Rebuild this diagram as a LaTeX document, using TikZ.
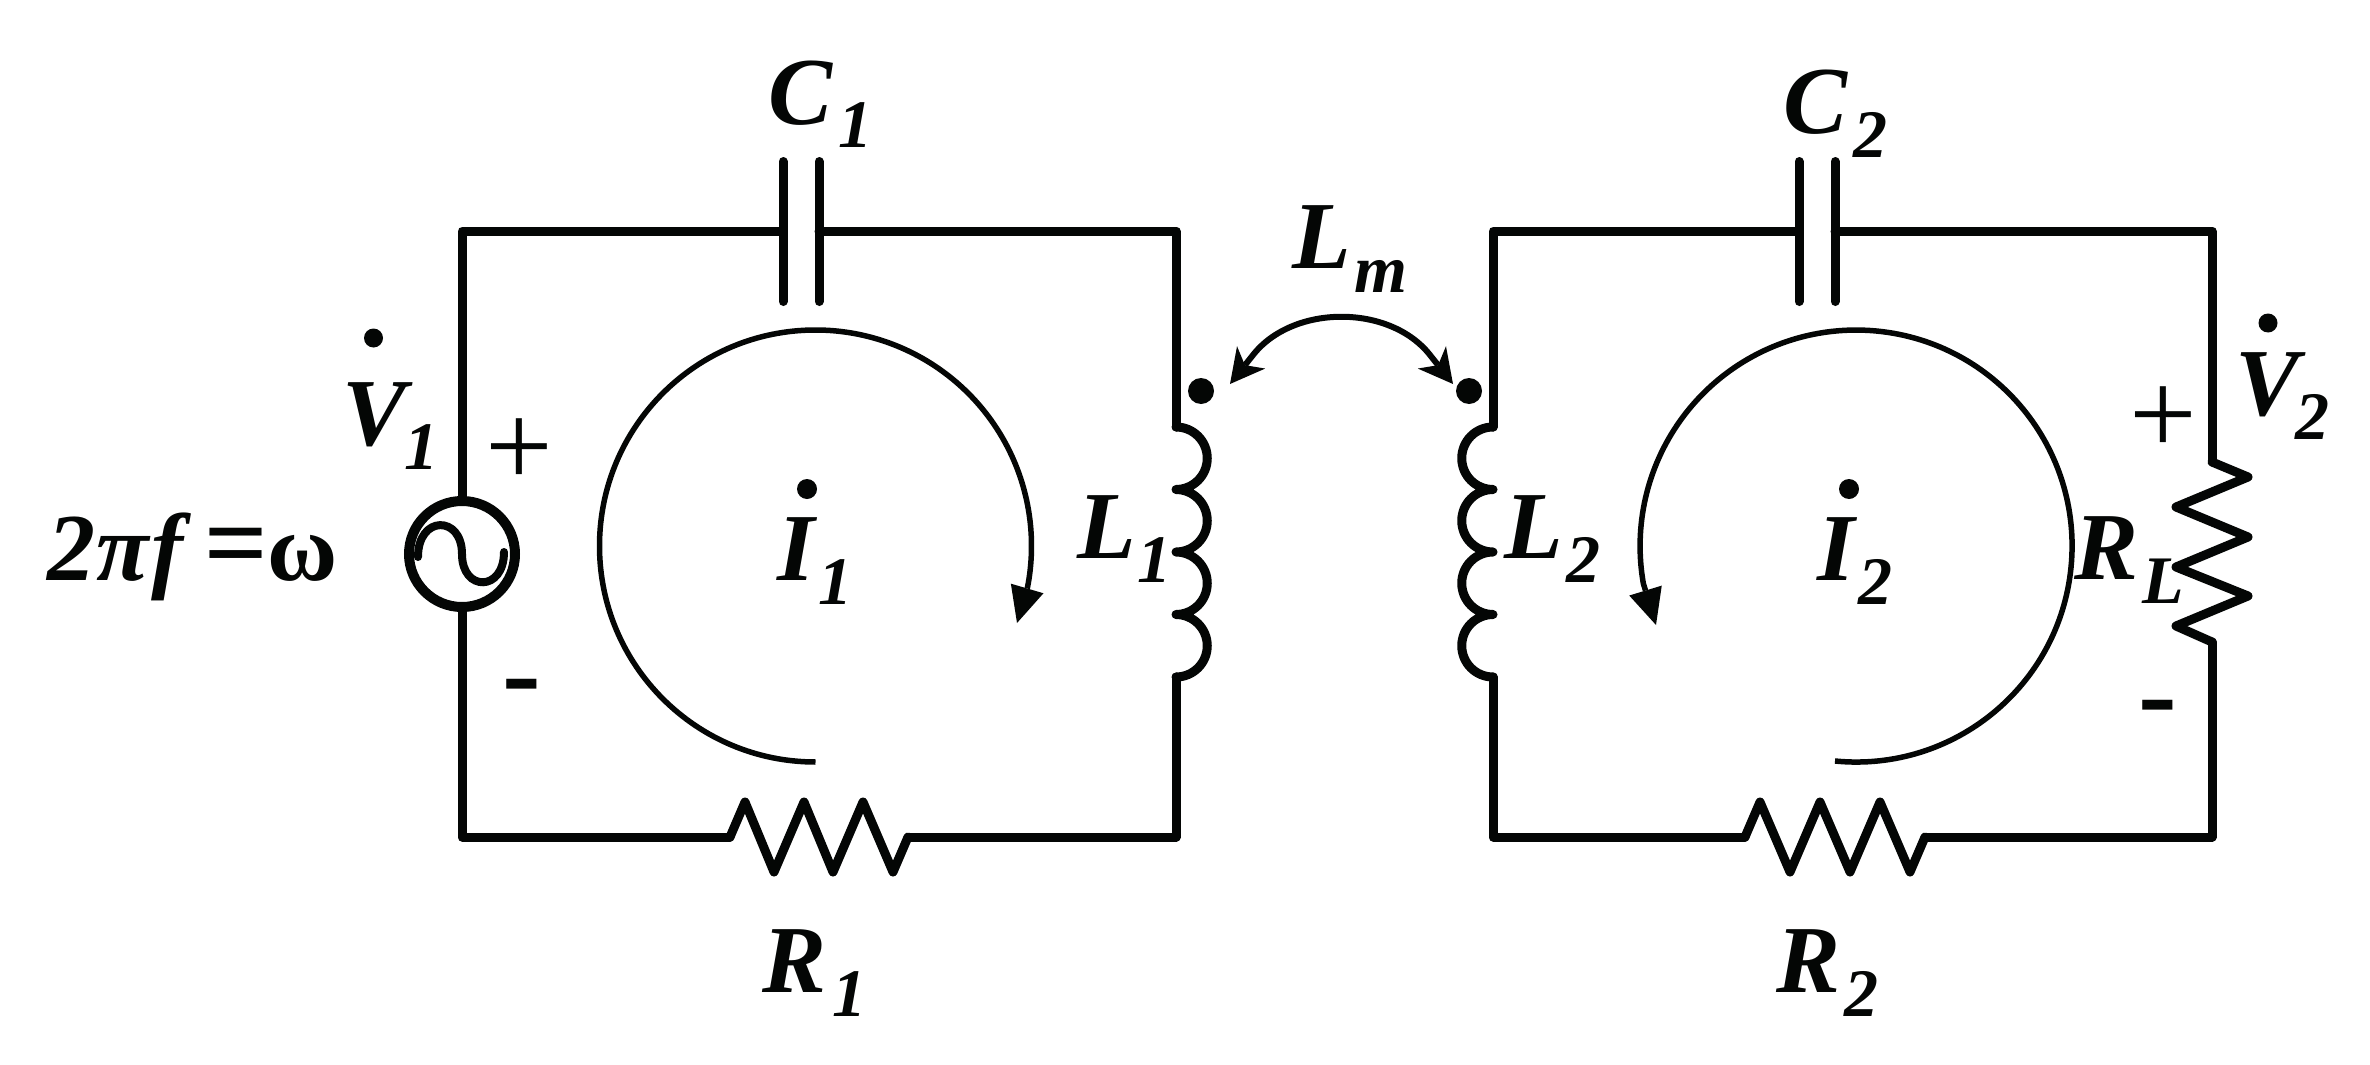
\documentclass[tikz,border=0pt]{standalone}
\usepackage{fontspec}
\setmainfont{Liberation Serif}
\usetikzlibrary{arrows.meta}
\definecolor{ink}{RGB}{4,6,5}
\newcommand{\subd}[1]{\lower 24pt\hbox{\fontsize{68}{68}\selectfont #1}}
\tikzset{
  wire/.style={draw=ink,line width=9pt,line cap=round,line join=round},
  loopcur/.style={draw=ink,line width=5.5pt,-{Triangle[length=36pt,width=34pt,line width=0pt]}},
  mutual/.style={draw=ink,line width=6pt,{Stealth[length=34pt,width=36pt,inset=10pt,line width=0pt]}-{Stealth[length=34pt,width=36pt,inset=10pt,line width=0pt]}},
  lab/.style={text=ink,inner sep=0pt,outer sep=0pt,anchor=base west,font=\fontsize{96}{96}\selectfont\bfseries\itshape},
  sign/.style={text=ink,inner sep=0pt,outer sep=0pt,anchor=base,font=\fontsize{120}{120}\selectfont},
  minussign/.style={text=ink,inner sep=0pt,outer sep=0pt,anchor=base,font=\fontsize{116}{116}\selectfont\bfseries},
  dotmark/.style={circle,fill=ink,inner sep=0pt,outer sep=0pt,minimum size=#1},
  source/.style={circle,draw=ink,line width=10pt,inner sep=0pt,outer sep=0pt,minimum size=106pt}
}
\begin{document}
\begin{tikzpicture}[x=1pt,y=-1pt]
\useasboundingbox (0,0) rectangle (2370,1065);
% corners and terminals, left mesh
\node[source] (src) at (462,554) {};
\coordinate (tl1) at (462,231);
\coordinate (tr1) at (1176,231);
\coordinate (br1) at (1176,837);
\coordinate (bl1) at (462,837);
\coordinate (c1l) at (783,231);
\coordinate (c1r) at (819,231);
\coordinate (l1a) at (1176,427);
\coordinate (l1b) at (1176,677);
\coordinate (r1a) at (730,837);
\coordinate (r1b) at (908,837);
% corners and terminals, right mesh
\coordinate (tl2) at (1493,231);
\coordinate (tr2) at (2212,231);
\coordinate (br2) at (2212,837);
\coordinate (bl2) at (1493,837);
\coordinate (c2l) at (1799,231);
\coordinate (c2r) at (1835,231);
\coordinate (l2a) at (1493,427);
\coordinate (l2b) at (1493,677);
\coordinate (r2a) at (1745,837);
\coordinate (r2b) at (1925,837);
\coordinate (rla) at (2212,462);
\coordinate (rlb) at (2212,642);
% wires
\draw[wire] (src.north) -- (tl1) -- (c1l);
\draw[wire] (c1r) -- (tr1) -- (l1a);
\draw[wire] (l1b) -- (br1) -- (r1b);
\draw[wire] (r1a) -- (bl1) -- (src.south);
\draw[wire] (l2a) -- (tl2) -- (c2l);
\draw[wire] (c2r) -- (tr2) -- (rla);
\draw[wire] (rlb) -- (br2) -- (r2b);
\draw[wire] (r2a) -- (bl2) -- (l2b);
% capacitors
\draw[wire] (783,161.5) -- (783,301.5);
\draw[wire] (819,161.5) -- (819,301.5);
\draw[wire] (1799,161.5) -- (1799,301.5);
\draw[wire] (1835,161.5) -- (1835,301.5);
% inductors
\draw[wire] (l1a) arc[start angle=-90,end angle=90,radius=31.25]
  arc[start angle=-90,end angle=90,radius=31.25]
  arc[start angle=-90,end angle=90,radius=31.25]
  arc[start angle=-90,end angle=90,radius=31.25];
\draw[wire] (l2a) arc[start angle=-90,end angle=-270,radius=31.25]
  arc[start angle=-90,end angle=-270,radius=31.25]
  arc[start angle=-90,end angle=-270,radius=31.25]
  arc[start angle=-90,end angle=-270,radius=31.25];
% resistors
\draw[wire] (r1a) -- (745,802) -- (774,872) -- (804,802) -- (833,872) -- (863,802) -- (893,872) -- (r1b);
\draw[wire] (r2a) -- (1760,802) -- (1790,872) -- (1820,802) -- (1850,872) -- (1880,802) -- (1910,872) -- (r2b);
\draw[wire] (rla) -- (2248,477) -- (2176,507) -- (2248,537) -- (2176,567) -- (2248,596) -- (2176,626) -- (rlb);
% source sine
\draw[draw=ink,line width=8pt,line cap=round] (418,557) .. controls (418,515) and (462,515) .. (462,554) .. controls (462,592) and (504,592) .. (504,552);
% mesh currents
\coordinate (m1s) at (815.5,762);
\coordinate (m1t) at (1017,623);
\coordinate (m2s) at (1835,761);
\coordinate (m2t) at (1656,625);
\draw[loopcur] (m1s) arc[start angle=90,end angle=371,radius=216] -- (m1t);
\draw[loopcur] (m2s) arc[start angle=95.6,end angle=-190,radius=216] -- (m2t);
% coupling
\node[dotmark=26pt] (dot1) at (1201,391) {};
\node[dotmark=26pt] (dot2) at (1469,391) {};
\coordinate (mla) at (1230,384);
\coordinate (mlb) at (1453,384);
\draw[mutual] (mla) -- (1253,355) .. controls (1293,304) and (1390,304) .. (1430,355) -- (mlb);
% labels
\node[lab] (lc1) at (768,124) {C\kern 6pt\subd{1}};
\node[lab] (lc2) at (1783,133) {C\kern 6pt\subd{2}};
\node[lab] (lr1) at (762,992) {R\kern 6pt\subd{1}};
\node[lab] (lr2) at (1776,992) {R\kern 4pt\subd{2}};
\node[lab] (ll1) at (1077,558) {L\kern 2pt\subd{1}};
\node[lab] (ll2) at (1504,558) {L\kern 4pt\subd{2}};
\node[lab] (lrl) at (2074,579) {R\kern 4pt\subd{L}};
\node[lab] (llm) at (1292,268) {L\kern 4pt\subd{m}};
\node[lab] (lv1) at (342,445) {V\kern -2pt\subd{1}};
\node[lab] (lv2) at (2235,415) {V\kern -4pt\subd{2}};
\node[lab] (li1) at (777,580) {I\kern 4pt\subd{1}};
\node[lab] (li2) at (1817,580) {I\kern 4pt\subd{2}};
\node[dotmark=19pt] (dv1) at (373.5,338) {};
\node[dotmark=19pt] (dv2) at (2268,323) {};
\node[dotmark=20pt] (di1) at (807,489) {};
\node[dotmark=20pt] (di2) at (1849,489) {};
\node[lab] (lw) at (47,580) {2\kern 2ptπ\kern 2ptf\kern 20pt{\fontsize{112}{112}\selectfont =}\kern 0pt{\upshape ω}};
\node[sign] (p1) at (519,486) {+};
\node[sign] (p2) at (2163,454) {+};
\node[minussign] (n1) at (522,711) {-};
\node[minussign] (n2) at (2158,732) {-};
\end{tikzpicture}
\end{document}
